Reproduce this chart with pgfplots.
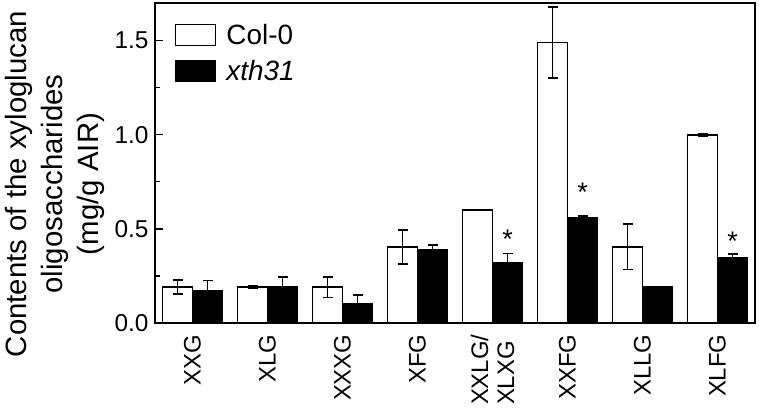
\documentclass[border=0pt]{standalone}
\usepackage{fontspec}
\setmainfont{Liberation Sans}
\usepackage{pgfplots}
\pgfplotsset{compat=1.18}

% values: white = Col-0, black = xth31
\pgfplotstableread{
x  col   colerr  xth   xtherr
0  0.19  0.037   0.17  0.055
1  0.19  0.006   0.19  0.055
2  0.19  0.055   0.10  0.050
3  0.405 0.090   0.39  0.025
4  0.60  0.000   0.32  0.050
5  1.49  0.190   0.56  0.008
6  0.405 0.120   0.19  0.000
7  1.00  0.007   0.345 0.020
}\datatable

\begin{document}
\begin{tikzpicture}
\useasboundingbox (0bp,0bp) rectangle (759bp,412bp);
\begin{axis}[
    at={(155bp,89bp)}, anchor=south west,
    scale only axis,
    width=600bp, height=320bp,
    xmin=-0.5, xmax=7.5,
    ymin=0, ymax=1.70,
    axis line style={line width=1.5bp},
    xtick={0,...,7},
    xticklabels={XXG,XLG,XXXG,XFG,{XXLG/\\XLXG},XXFG,XLLG,XLFG},
    xtick style={draw=none},
    xticklabel style={rotate=90, anchor=east, align=left, font=\fontsize{24}{26}\selectfont},
    ytick={0,0.5,1,1.5},
    minor ytick={0.25,0.75,1.25},
    ytick pos=left,
    tick align=inside,
    major tick length=8bp, minor tick length=5bp,
    every tick/.style={line width=1.3bp, black},
    yticklabel style={font=\fontsize{24.5}{26}\selectfont, xshift=-3bp,
        /pgf/number format/.cd, fixed, fixed zerofill, precision=1, assume math mode=true},
    ybar=0pt,
    bar width=0.4,
    legend style={at={(0.028,0.945)}, anchor=north west, draw=none, fill=none,
        font=\fontsize{28}{30}\selectfont, row sep=10bp,
        /tikz/every odd column/.append style={column sep=8bp}},
    legend cell align=left,
    legend image code/.code={\draw[#1, line width=1.5bp] (0bp,-10bp) rectangle (40bp,11bp);},
    error bars/error bar style={line width=1.7bp, black},
    error bars/error mark options={rotate=90, mark size=5bp, line width=1.7bp, black},
]
\addplot[fill=white, draw=black, line width=1.5bp, bar shift=-0.2,
    error bars/.cd, y dir=both, y explicit]
    table[x=x, y=col, y error=colerr] {\datatable};
\addlegendentry{Col-0}
\addplot[fill=black, draw=black, line width=1.5bp, bar shift=0.2,
    error bars/.cd, y dir=both, y explicit]
    table[x=x, y=xth, y error=xtherr] {\datatable};
\addlegendentry{\textit{xth31}}
\node[anchor=base, font=\fontsize{27}{28}\selectfont] at (axis cs:4.2,0.395) {*};
\node[anchor=base, font=\fontsize{27}{28}\selectfont] at (axis cs:5.2,0.645) {*};
\node[anchor=base, font=\fontsize{27}{28}\selectfont] at (axis cs:7.2,0.385) {*};
\end{axis}
\node[rotate=90, align=center, font=\fontsize{29.5}{36}\selectfont] at (55bp,228bp)
    {Contents of the xyloglucan\\oligosaccharides\\(mg/g AIR)};
\end{tikzpicture}
\end{document}
